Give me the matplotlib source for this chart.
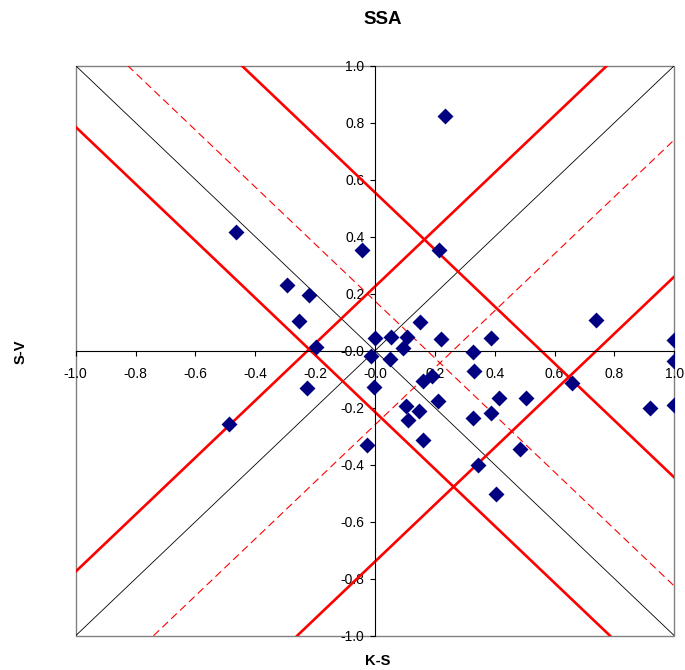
import numpy as np
import matplotlib
matplotlib.use('Agg')
import matplotlib.pyplot as plt
from matplotlib.patches import Rectangle

plt.rcParams['font.family'] = ['Liberation Sans', 'DejaVu Sans']

# scatter data (K-S, S-V)
ks = [-0.464, -0.295, -0.219, -0.253, -0.197, -0.043, 0.000, -0.014, -0.226, -0.003,
      -0.487, -0.027, 0.055, 0.108, 0.150, 0.095, 0.050, 0.219, 0.388, 0.326,
      0.332, 0.190, 0.162, 0.212, 0.415, 0.506, 0.104, 0.146, 0.111, 0.327,
      0.388, 0.162, 0.484, 0.235, 0.215, 0.737, 1.000, 1.000, 0.657, 0.919,
      1.000, 0.345, 0.403]
sv = [0.416, 0.231, 0.196, 0.104, 0.012, 0.353, 0.045, -0.020, -0.132, -0.127,
      -0.256, -0.332, 0.049, 0.048, 0.100, 0.009, -0.029, 0.040, 0.045, -0.004,
      -0.073, -0.089, -0.107, -0.177, -0.166, -0.166, -0.193, -0.211, -0.242, -0.235,
      -0.219, -0.314, -0.344, 0.822, 0.354, 0.109, 0.036, -0.035, -0.113, -0.201,
      -0.189, -0.402, -0.503]

# reference lines y = slope*x + intercept
diag_slopes = [1, -1]
red_up = [0.225, -0.74]       # solid, slope +1
red_down = [0.555, -0.215]    # solid, slope -1
dash_up = [-0.26]             # dashed, slope +1
dash_down = [0.174]           # dashed, slope -1

ticks = np.round(np.arange(-1.0, 1.01, 0.2), 1)

fig = plt.figure(figsize=(6.85, 6.70), dpi=100)
ax = fig.add_axes([0.1105, 0.0512, 0.8739, 0.8508])

for s in diag_slopes:
    ax.axline((0, 0), slope=s, color='black', lw=0.6, zorder=1)
for c in red_up:
    ax.axline((0, c), slope=1, color='#ff0000', lw=1.9, zorder=2)
for c in red_down:
    ax.axline((0, c), slope=-1, color='#ff0000', lw=1.9, zorder=2)
for c in dash_up:
    ax.axline((0, c), slope=1, color='#ff0000', lw=0.8, ls=(0, (7, 4)), zorder=2)
for c in dash_down:
    ax.axline((0, c), slope=-1, color='#ff0000', lw=0.8, ls=(0, (7, 4)), zorder=2)

ax.scatter(ks, sv, marker='D', s=66, color='#000080', zorder=5, linewidths=0)

ax.set_xlim(-1, 1)
ax.set_ylim(-1, 1)
ax.spines['left'].set_position('zero')
ax.spines['bottom'].set_position('zero')
ax.spines['top'].set_visible(False)
ax.spines['right'].set_visible(False)
ax.spines['left'].set_linewidth(0.8)
ax.spines['bottom'].set_linewidth(0.8)
ax.add_patch(Rectangle((0, 0), 1, 1, transform=ax.transAxes, fill=False,
                       edgecolor='#808080', lw=1.0, zorder=0, clip_on=False))

ax.set_xticks(ticks)
ax.set_yticks(ticks)
ax.set_xticklabels(['%.1f' % t for t in ticks])
ax.set_yticklabels(['%.1f' % t for t in ticks])
ax.tick_params(axis='x', direction='out', length=3.5, width=0.8, pad=8, labelsize=10)
ax.tick_params(axis='y', direction='out', length=3.5, width=0.8, pad=4, labelsize=10)

fig.text(383 / 685, 1 - 20 / 670, 'SSA', ha='center', va='center',
         fontsize=13.5, fontweight='bold')
fig.text(378 / 685, 1 - 661 / 670, 'K-S', ha='center', va='center',
         fontsize=10.5, fontweight='bold')
fig.text(21 / 685, 1 - 352 / 670, 'S-V', ha='center', va='center',
         fontsize=10.5, fontweight='bold', rotation=90)

fig.savefig('out.png', dpi=100)
